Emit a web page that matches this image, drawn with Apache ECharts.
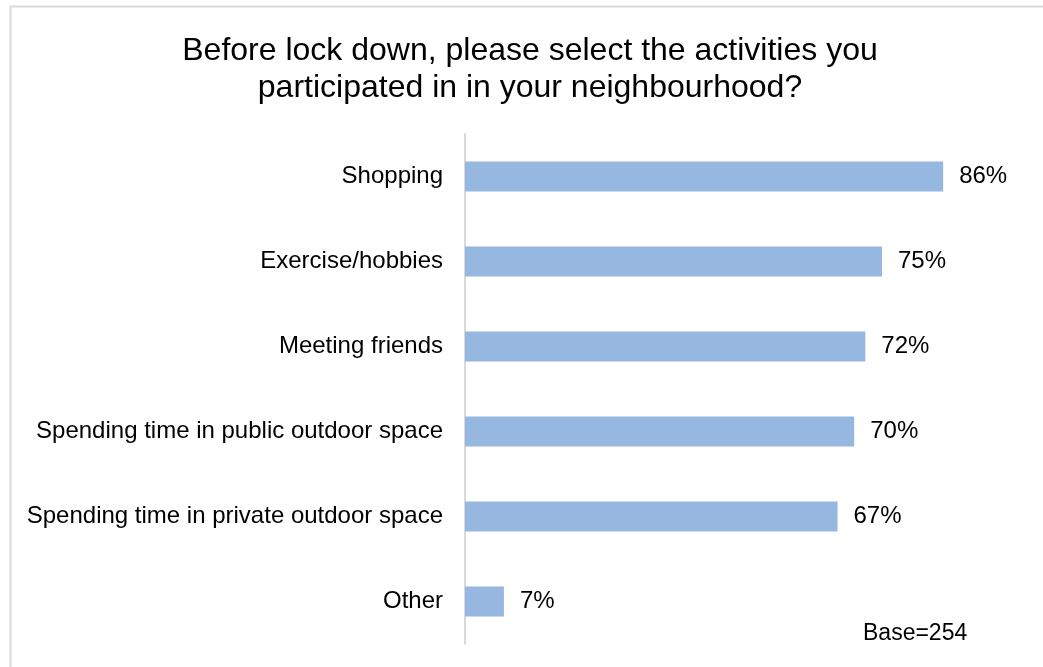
<!DOCTYPE html>
<html>
<head>
<meta charset="utf-8">
<script src="https://cdn.jsdelivr.net/npm/echarts@6/dist/echarts.min.js"></script>
<style>
  html, body { margin: 0; padding: 0; background: #fff; }
  #chart { width: 1043px; height: 667px; }
</style>
</head>
<body>
<div id="chart"></div>
<script>
// Activities before lock down, share of respondents (%)
const categories = [
  'Shopping',
  'Exercise/hobbies',
  'Meeting friends',
  'Spending time in public outdoor space',
  'Spending time in private outdoor space',
  'Other'
];
const values = [86, 75, 72, 70, 67, 7];
const titleText = 'Before lock down, please select the activities you\nparticipated in in your neighbourhood?';
const baseNote = 'Base=254';

const chart = echarts.init(document.getElementById('chart'), null, { renderer: 'canvas' });
const font = 'Liberation Sans, Arial, sans-serif';

chart.setOption({
  backgroundColor: '#ffffff',
  animation: false,
  title: {
    text: titleText,
    left: 525,
    top: 28,
    textAlign: 'center',
    textStyle: {
      fontFamily: font,
      fontSize: 32,
      fontWeight: 'normal',
      color: '#000000',
      lineHeight: 37
    }
  },
  graphic: [
    {
      type: 'rect',
      shape: { x: 10.5, y: 6.5, width: 1100, height: 700 },
      style: { fill: 'none', stroke: '#d9d9d9', lineWidth: 2 },
      silent: true
    },
    {
      type: 'text',
      left: 863,
      top: 622,
      style: { text: baseNote, font: '23px ' + font, fill: '#000000' }
    }
  ],
  grid: { left: 465, top: 134, width: 556, height: 510, containLabel: false },
  xAxis: {
    type: 'value',
    min: 0,
    max: 100,
    show: false
  },
  yAxis: {
    type: 'category',
    data: categories,
    inverse: true,
    axisLine: { show: true, lineStyle: { color: '#d9d9d9', width: 2 } },
    axisTick: { show: false },
    axisLabel: {
      margin: 22,
      fontFamily: font,
      fontSize: 24,
      color: '#000000',
      padding: [3, 0, 0, 0]
    }
  },
  series: [{
    type: 'bar',
    data: values,
    barWidth: 30,
    itemStyle: { color: '#95b7e0' },
    label: {
      show: true,
      position: 'right',
      distance: 16,
      formatter: '{c}%',
      fontFamily: font,
      fontSize: 24,
      color: '#000000',
      padding: [3, 0, 0, 0]
    }
  }]
});
</script>
</body>
</html>
